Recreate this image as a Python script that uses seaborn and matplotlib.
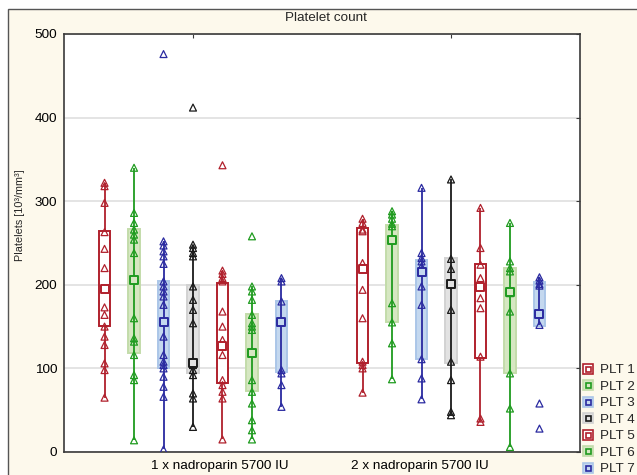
import pandas as pd
import numpy as np
import matplotlib
matplotlib.use("Agg")
import matplotlib.pyplot as plt
import matplotlib.transforms as mtransforms
from matplotlib.lines import Line2D
from matplotlib.legend_handler import HandlerTuple
from matplotlib.patches import Rectangle
import seaborn as sns

# categories
groups = ["1 x nadroparin 5700 IU", "2 x nadroparin 5700 IU"]
series = ["PLT 1", "PLT 2", "PLT 3", "PLT 4", "PLT 5", "PLT 6", "PLT 7"]

# raw platelet counts, group 1
g1_plt1 = [322, 318, 298, 263, 243, 220, 196, 173, 164, 150, 138, 128, 106, 98, 65]
g1_plt2 = [340, 286, 274, 266, 260, 254, 238, 206, 160, 136, 132, 116, 92, 86, 14]
g1_plt3 = [476, 252, 247, 240, 234, 225, 204, 198, 192, 186, 176, 156, 138, 116, 108, 104, 100, 90, 78, 66, 3]
g1_plt4 = [412, 248, 244, 238, 234, 198, 182, 170, 154, 108, 104, 98, 92, 70, 64, 30]
g1_plt5 = [343, 217, 213, 208, 204, 168, 150, 134, 126, 116, 86, 80, 72, 64, 15]
g1_plt6 = [258, 198, 192, 182, 164, 154, 150, 146, 120, 86, 72, 58, 38, 26, 15]
g1_plt7 = [208, 204, 180, 156, 98, 94, 80, 54]

# group 2
g2_plt1 = [279, 274, 266, 264, 226, 220, 194, 160, 108, 104, 100, 71]
g2_plt2 = [288, 284, 279, 273, 270, 255, 178, 155, 130, 87]
g2_plt3 = [316, 238, 232, 228, 222, 215, 198, 176, 111, 88, 63]
g2_plt4 = [326, 231, 219, 201, 170, 108, 86, 48, 44]
g2_plt5 = [292, 244, 224, 208, 197, 184, 172, 114, 40, 36]
g2_plt6 = [274, 228, 220, 216, 190, 168, 94, 52, 6]
g2_plt7 = [209, 205, 201, 199, 165, 152, 58, 28]

# box summaries (25%, median, 75%, non-outlier min / max)
g1_q1 = [151, 118, 100, 94, 83, 73, 96]
g1_med = [195, 206, 156, 107, 127, 119, 155]
g1_q3 = [264, 267, 205, 200, 202, 165, 181]
g1_lo = [65, 14, 3, 30, 15, 15, 54]
g1_hi = [322, 340, 252, 248, 217, 198, 208]

g2_q1 = [107, 155, 111, 107, 113, 94, 151]
g2_med = [219, 254, 215, 201, 197, 191, 165]
g2_q3 = [268, 271, 230, 232, 225, 220, 203]
g2_lo = [71, 87, 63, 44, 36, 6, 152]
g2_hi = [279, 288, 316, 326, 292, 274, 209]

red, green, blue, black = "#b0202c", "#1f9b1f", "#2a2aa0", "#1a1a1a"
line_cols = [red, green, blue, black, red, green, blue]
fill_cols = ["white", "#d6e7c2", "#c4d8ef", "#e2e2e2", "white", "#d6e7c2", "#c4d8ef"]
edge_cols = [red, "#c3dcaa", "#abc6e8", "#d2d2d2", red, "#c3dcaa", "#abc6e8"]

sns.set_style("white")
plt.rcParams["font.family"] = ["Liberation Sans", "DejaVu Sans"]

rows = []
for grp, lists in zip(groups, [[g1_plt1, g1_plt2, g1_plt3, g1_plt4, g1_plt5, g1_plt6, g1_plt7],
                               [g2_plt1, g2_plt2, g2_plt3, g2_plt4, g2_plt5, g2_plt6, g2_plt7]]):
    for s, vals in zip(series, lists):
        for v in vals:
            rows.append({"group": grp, "series": s, "value": v})
df = pd.DataFrame(rows)

fig = plt.figure(figsize=(6.37, 4.75), dpi=100)
fig.patch.set_facecolor("white")
fig.patches.append(Rectangle((8 / 637, -0.1), 1.2, 1.1 - 9 / 475, transform=fig.transFigure,
                             facecolor="#fdf9ec", edgecolor="#555555", lw=1.0, zorder=-10))

ax = fig.add_axes([64 / 637, 23 / 475, 516 / 637, 418 / 475])
ax.set_facecolor("white")

pal = dict(zip(series, line_cols))
sns.stripplot(data=df, x="group", y="value", hue="series", order=groups, hue_order=series,
              palette=pal, dodge=True, jitter=False, marker="^", size=5, linewidth=0.9,
              ax=ax, zorder=4, legend=False)
# open triangles
for coll in ax.collections:
    fc = coll.get_facecolors()
    coll.set_edgecolors(fc)
    coll.set_facecolors("none")

# boxes at the same dodge slots seaborn uses
offsets = np.linspace(0, 0.8 - 0.8 / 7, 7)
offsets -= offsets.mean()
for gi, (q1, med, q3, lo, hi) in enumerate([(g1_q1, g1_med, g1_q3, g1_lo, g1_hi),
                                            (g2_q1, g2_med, g2_q3, g2_lo, g2_hi)]):
    for j in range(7):
        pos = gi + offsets[j]
        ax.vlines(pos, lo[j], hi[j], color=line_cols[j], lw=1.3, zorder=2)
        stats = [{"med": med[j], "q1": q1[j], "q3": q3[j], "whislo": q1[j], "whishi": q3[j], "fliers": []}]
        ax.bxp(stats, positions=[pos], widths=0.046, patch_artist=True, showcaps=False,
               showfliers=False, manage_ticks=False,
               boxprops=dict(facecolor=fill_cols[j], edgecolor=edge_cols[j], lw=1.4),
               medianprops=dict(lw=0), whiskerprops=dict(lw=0),
               zorder=3 if fill_cols[j] == "white" else 1.5)
        ax.scatter([pos], [med[j]], marker="s", s=34, facecolor=fill_cols[j],
                   edgecolor=line_cols[j], linewidth=1.4, zorder=5)

ax.set_xlim(-0.5, 1.5)
ax.set_ylim(0, 500)
ax.set_yticks([0, 100, 200, 300, 400, 500])
ax.set_xticks([0, 1])
ax.set_xticklabels(groups)
ax.set_xlabel("")
ax.set_axisbelow(True)
ax.yaxis.grid(True, color="#e2e2e2", lw=1.3)
ax.xaxis.grid(False)
for sp in ax.spines.values():
    sp.set_visible(True)
    sp.set_color("#3a3a3a")
    sp.set_linewidth(1.2)
ax.tick_params(direction="in", length=3, width=0.8, top=True, right=True,
               labelsize=9.7, colors="#3a3a3a", labelcolor="black")
ax.tick_params(axis="y", pad=5)
ax.tick_params(axis="x", pad=6)
shifts = [27, -31]
for lab, dx in zip(ax.get_xticklabels(), shifts):
    lab.set_transform(lab.get_transform() + mtransforms.ScaledTranslation(dx / 100, 0, fig.dpi_scale_trans))

ax.set_ylabel("Platelets [10³/mm³]", fontsize=7.8)
ax.yaxis.set_label_coords(-0.076, 0.567)
fig.text(326 / 637, 1 - 18 / 475, "Platelet count", ha="center", va="center", fontsize=9.7)

handles = []
for j in range(7):
    outer = Line2D([], [], ls="none", marker="s", ms=7.8, mfc=fill_cols[j], mec=edge_cols[j], mew=1.2)
    inner = Line2D([], [], ls="none", marker="s", ms=3.6, mfc="none", mec=line_cols[j], mew=1.2)
    handles.append((outer, inner))
fig.legend(handles, series, handler_map={tuple: HandlerTuple(ndivide=1, pad=0)},
           loc="upper left", bbox_to_anchor=(583 / 637, 1 - 364 / 475), frameon=False,
           fontsize=9.7, handlelength=0.7, handletextpad=0.55, labelspacing=0.3,
           borderpad=0, borderaxespad=0)

fig.savefig("out.png", dpi=100)
